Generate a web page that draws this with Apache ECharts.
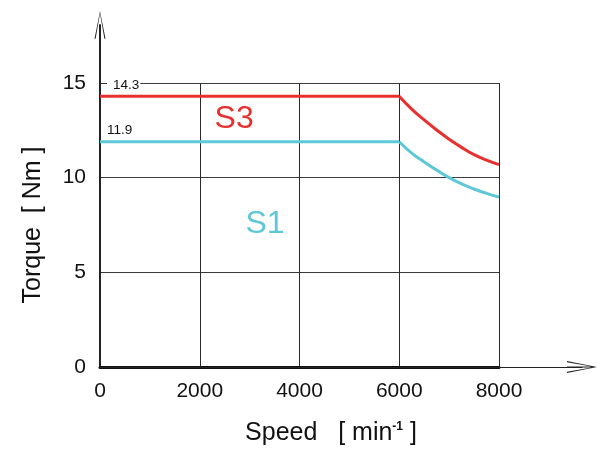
<!DOCTYPE html>
<html>
<head>
<meta charset="utf-8">
<script src="https://cdn.jsdelivr.net/npm/echarts@6/dist/echarts.min.js"></script>
<style>html,body{margin:0;padding:0;background:#fff}#c{width:608px;height:459px}</style>
</head>
<body>
<div id="c"></div>
<script>
// ---- data ----
var flatSpeeds = [0, 6000];
var curveSpeeds = [6000, 6250, 6500, 6750, 7000, 7250, 7500, 7750, 8000];
var s3Flat = [14.3, 14.3];
var s3Curve = [14.3, 13.62, 13.05, 12.52, 12.03, 11.6, 11.22, 10.93, 10.69];
var s1Flat = [11.9, 11.9];
var s1Curve = [11.9, 11.3, 10.83, 10.4, 10.0, 9.67, 9.4, 9.17, 8.97];
var xTicks = [0, 2000, 4000, 6000, 8000];
var yTicks = [0, 5, 10, 15];
var seriesNames = ['S3', 'S1'];
var ratedLabels = ['14.3', '11.9'];

var FONT = 'Liberation Sans, Arial, Helvetica, sans-serif';
var RED = '#e8302f';
var CYAN = '#5ec8d8';

function pairs(xs, ys) { return xs.map(function (x, i) { return [x, ys[i]]; }); }

var xArrow = 'path://M6,0 L12,30 L10.8,30 L6,2.5 L1.2,30 L0,30 Z M5.5,2 L6.5,2 L6.5,30 L5.5,30 Z';
var yArrow = 'path://M6,0 L12,30 L10.8,30 L6,2.5 L1.2,30 L0,30 Z';

var chart = echarts.init(document.getElementById('c'), null, {renderer: 'canvas'});
chart.setOption({
  animation: false,
  backgroundColor: '#fff',
  textStyle: {fontFamily: FONT},
  grid: [
    {left: 100, right: 109, top: 83, bottom: 92},
    {left: 100, right: 26, top: 25, bottom: 92}
  ],
  xAxis: [
    {
      type: 'value', gridIndex: 0, min: xTicks[0], max: xTicks[xTicks.length - 1], interval: 2000,
      axisLine: {show: true, onZero: false, lineStyle: {color: '#111', width: 3}},
      axisTick: {show: false},
      axisLabel: {color: '#111', fontSize: 21, fontFamily: FONT, margin: 14, formatter: function (v) { return String(v); }},
      splitLine: {show: true, lineStyle: {color: '#2a2a2a', width: 1}}
    },
    {
      type: 'value', gridIndex: 1, min: 0, max: 1,
      axisLine: {show: true, onZero: false, symbol: ['none', xArrow], symbolSize: [12, 30],
        lineStyle: {color: '#222', width: 1}},
      axisTick: {show: false}, axisLabel: {show: false}, splitLine: {show: false}
    }
  ],
  yAxis: [
    {
      type: 'value', gridIndex: 0, min: yTicks[0], max: yTicks[yTicks.length - 1], interval: 5,
      axisLine: {show: false},
      axisTick: {show: false},
      axisLabel: {color: '#111', fontSize: 21, fontFamily: FONT, margin: 14},
      splitLine: {show: true, lineStyle: {color: '#3a3a3a', width: 1}},
      name: 'Torque  [ Nm ]', nameLocation: 'middle', nameGap: 54,
      nameTextStyle: {color: '#111', fontSize: 25, fontFamily: FONT}
    },
    {
      type: 'value', gridIndex: 1, min: 0, max: 1,
      axisLine: {show: true, onZero: false, symbol: ['none', yArrow], symbolSize: [11, 30],
        lineStyle: {color: '#222', width: 2}},
      axisTick: {show: false}, axisLabel: {show: false}, splitLine: {show: false}
    }
  ],
  graphic: [
    {
      type: 'text', x: 331, y: 421, z: 10,
      style: {
        text: 'Speed   [ min{sup|-1} ]',
        fill: '#111', font: '25px ' + FONT,
        textAlign: 'center', textVerticalAlign: 'top',
        rich: {sup: {fontSize: 12, fontFamily: FONT, verticalAlign: 'top', fill: '#111', fontWeight: 'bold'}}
      }
    }
  ],
  series: [
    {
      name: seriesNames[0], type: 'line', xAxisIndex: 0, yAxisIndex: 0,
      data: pairs(flatSpeeds, s3Flat), showSymbol: false, symbol: 'none',
      lineStyle: {color: RED, width: 3}, z: 3,
      markPoint: {
        symbol: 'circle', symbolSize: 0, silent: true,
        data: [
          {coord: [0, s3Flat[0]], label: {show: true, formatter: ratedLabels[0], position: 'inside', align: 'left', verticalAlign: 'middle', offset: [7, -11], color: '#111', fontSize: 13.5, fontFamily: FONT, backgroundColor: '#fff', padding: [2, 1, 1, 6]}},
          {coord: [2690, 13.1], label: {show: true, formatter: seriesNames[0], position: 'inside', color: RED, fontSize: 32, fontFamily: FONT}}
        ]
      }
    },
    {
      name: seriesNames[0] + ' curve', type: 'line', xAxisIndex: 0, yAxisIndex: 0,
      data: pairs(curveSpeeds, s3Curve), showSymbol: false, symbol: 'none', smooth: 0.5,
      lineStyle: {color: RED, width: 3}, z: 3
    },
    {
      name: seriesNames[1], type: 'line', xAxisIndex: 0, yAxisIndex: 0,
      data: pairs(flatSpeeds, s1Flat), showSymbol: false, symbol: 'none',
      lineStyle: {color: CYAN, width: 3}, z: 2,
      markPoint: {
        symbol: 'circle', symbolSize: 0, silent: true,
        data: [
          {coord: [0, s1Flat[0]], label: {show: true, formatter: ratedLabels[1], position: 'inside', align: 'left', verticalAlign: 'middle', offset: [7, -11], color: '#111', fontSize: 13.5, fontFamily: FONT}},
          {coord: [3310, 7.55], label: {show: true, formatter: seriesNames[1], position: 'inside', color: CYAN, fontSize: 32, fontFamily: FONT}}
        ]
      }
    },
    {
      name: seriesNames[1] + ' curve', type: 'line', xAxisIndex: 0, yAxisIndex: 0,
      data: pairs(curveSpeeds, s1Curve), showSymbol: false, symbol: 'none', smooth: 0.5,
      lineStyle: {color: CYAN, width: 3}, z: 2
    }
  ]
});
</script>
</body>
</html>
